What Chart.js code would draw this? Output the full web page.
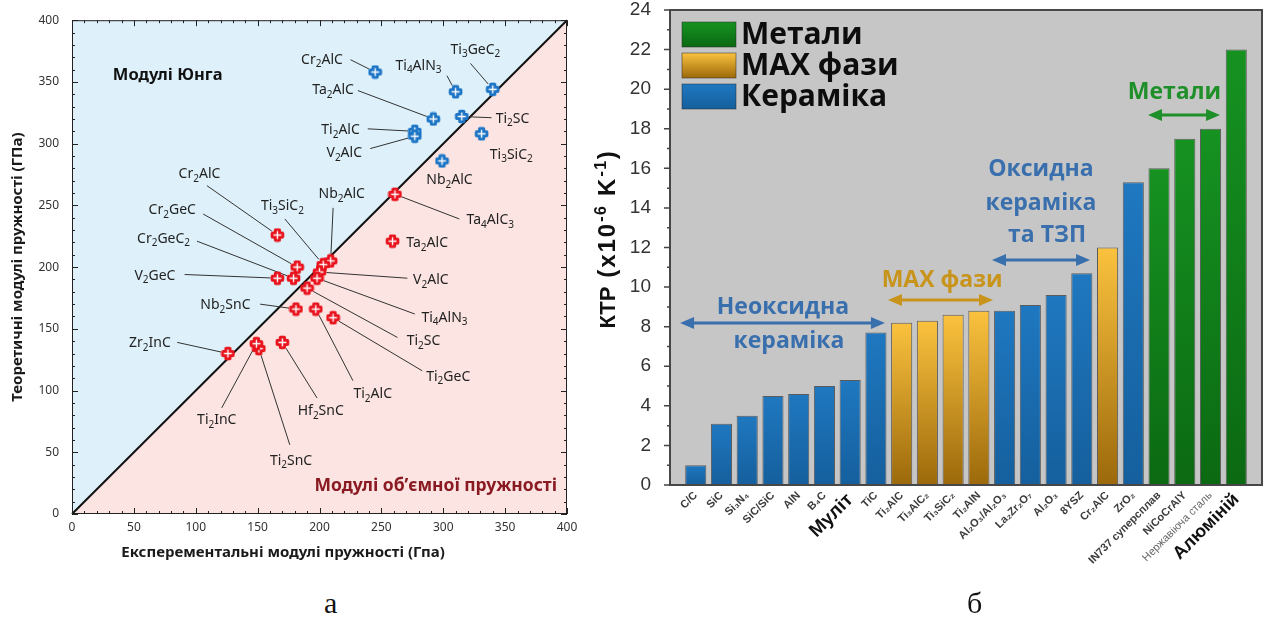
<!DOCTYPE html>
<html>
<head>
<meta charset="utf-8">
<script src="https://cdn.jsdelivr.net/npm/chart.js@4.4.1/dist/chart.umd.min.js"></script>
<style>
  html, body { margin: 0; padding: 0; background: #fff; width: 1268px; height: 618px; overflow: hidden; }
  #wrapA { position: absolute; left: 0; top: 0; width: 590px; height: 570px; }
  #wrapB { position: absolute; left: 590px; top: 0; width: 678px; height: 590px; }
  #wrapB canvas { filter: blur(0.5px); }
  .cap { position: absolute; font-family: "Liberation Serif", "Times New Roman", serif; font-size: 30px; color: #111; line-height: 1; }
</style>
</head>
<body>
<div id="wrapA"><canvas id="moduli"></canvas></div>
<div id="wrapB"><canvas id="ktr"></canvas></div>
<div class="cap" style="left:324px; top:588px;">а</div>
<div class="cap" style="left:967px; top:588px;">б</div>

<script>
// ---------- (а) Young's and bulk moduli: experiment vs theory, GPa ----------
const youngNames = ['Cr2AlC', 'Ti4AlN3', 'Ti3GeC2', 'Ta2AlC', 'Ti2SC', 'Ti2AlC', 'V2AlC', 'Ti3SiC2', 'Nb2AlC'];
const youngExp   = [245, 310, 340, 292, 315, 277, 277, 331, 299];
const youngTheo  = [358, 342, 344, 320, 322, 310, 306, 308, 286];

const bulkNames = ['Ta4AlC3', 'Ta2AlC', 'Cr2AlC', 'Cr2GeC', 'Cr2GeC2', 'V2GeC', 'Nb2AlC', 'Ti3SiC2', 'V2AlC',
                   'Ti4AlN3', 'Ti2SC', 'Ti2GeC', 'Ti2AlC', 'Nb2SnC', 'Hf2SnC', 'Ti2SnC', 'Ti2InC', 'Zr2InC'];
const bulkExp   = [261, 259, 166, 182, 179, 166, 209, 203, 200, 198, 190, 211, 197, 181, 170, 151, 149, 126];
const bulkTheo  = [259, 221, 226, 200, 191, 191, 205, 202, 196, 191, 183, 159, 166, 166, 139, 134, 138, 130];

const moduliTicks = [0, 50, 100, 150, 200, 250, 300, 350, 400];

// callout placement (axis units): text centre and the start of its leader line
const youngLabelAt    = [[202, 369], [280, 364], [326, 377], [211, 344], [356, 321], [217, 312], [220, 293], [355, 292], [305, 271]];
const youngLeaderFrom = [[225, 368], [303, 355], [322, 365], [231, 343], [339, 321], [239, 312], [241, 296], null, null];
const bulkLabelAt     = [[338, 239], [287, 220], [103, 276], [81, 247], [74, 224], [67, 194], [218, 260], [170, 250], [290, 190],
                         [301, 160], [284, 141], [304, 112], [243, 98], [124, 170], [201, 84], [177, 44], [117, 77], [63, 139]];
const bulkLeaderFrom  = [[313, 239], null, [109, 266], [106, 243], [101, 221], [91, 194], [211, 248], [172, 239], [271, 191],
                         [277, 162], [263, 143], [283, 116], [227, 108], [152, 170], [198, 94], [176, 56], [121, 86], [85, 139]];

// ---------- (б) coefficient of thermal expansion ----------
const materials = ['C/C', 'SiC', 'Si₃N₄', 'SiC/SiC', 'AlN', 'B₄C', 'Муліт', 'TiC',
                   'Ti₂AlC', 'Ti₃AlC₂', 'Ti₃SiC₂', 'Ti₂AlN',
                   'Al₂O₃/Al₂O₃', 'La₂Zr₂O₇', 'Al₂O₃', '8YSZ', 'Cr₂AlC', 'ZrO₂',
                   'IN737 суперсплав', 'NiCoCrAlY', 'Нержавіюча сталь', 'Алюміній'];
const ktrValues = [1.0, 3.1, 3.5, 4.5, 4.6, 5.0, 5.3, 7.7,
                   8.2, 8.3, 8.6, 8.8,
                   8.8, 9.1, 9.6, 10.7, 12.0, 15.3,
                   16.0, 17.5, 18.0, 22.0];
const materialGroup = ['cer', 'cer', 'cer', 'cer', 'cer', 'cer', 'cer', 'cer',
                       'max', 'max', 'max', 'max',
                       'cer', 'cer', 'cer', 'cer', 'max', 'cer',
                       'met', 'met', 'met', 'met'];
const groupLabels = { met: 'Метали', max: 'MAX фази', cer: 'Кераміка' };
const ktrTicks = [0, 2, 4, 6, 8, 10, 12, 14, 16, 18, 20, 22, 24];

// ---------- helpers ----------
function makeMarker(color) {
  const c = document.createElement('canvas');
  c.width = 15; c.height = 15;
  const g = c.getContext('2d');
  const m = 7.5;
  g.fillStyle = color;
  g.beginPath();
  g.roundRect(m - 3.6, m - 6.8, 7.2, 13.6, 1.8);
  g.roundRect(m - 6.8, m - 3.6, 13.6, 7.2, 1.8);
  g.fill();
  g.strokeStyle = '#fff';
  g.lineWidth = 1.4;
  g.beginPath();
  g.moveTo(m, m - 4); g.lineTo(m, m + 4);
  g.moveTo(m - 4, m); g.lineTo(m + 4, m);
  g.stroke();
  return c;
}
const blueMarker = makeMarker('#1b74c5');
const redMarker = makeMarker('#e8121c');

const LABEL_FONT = '"Noto Sans", "DejaVu Sans", sans-serif';
const NO_PAD = () => ({ left: 0, top: 0, right: 0, bottom: 0 });

// chemical formula: digits are drawn as subscripts
function drawFormula(g, text, x, y, size, align) {
  const runs = [];
  for (const ch of text) {
    const isSub = /[0-9]/.test(ch);
    if (runs.length && runs[runs.length - 1].sub === isSub) runs[runs.length - 1].t += ch;
    else runs.push({ t: ch, sub: isSub });
  }
  const big = `${size}px ${LABEL_FONT}`;
  const small = `${Math.round(size * 0.72)}px ${LABEL_FONT}`;
  let w = 0;
  runs.forEach(r => { g.font = r.sub ? small : big; r.w = g.measureText(r.t).width; w += r.w; });
  let cx = align === 'center' ? x - w / 2 : (align === 'right' ? x - w : x);
  g.textAlign = 'left';
  g.textBaseline = 'alphabetic';
  runs.forEach(r => {
    g.font = r.sub ? small : big;
    g.fillText(r.t, cx, y + size * 0.36 + (r.sub ? size * 0.26 : 0));
    cx += r.w;
  });
}

// ---------- chart (а) ----------
const moduliPlugin = {
  id: 'moduliDecor',
  beforeDatasetsDraw(chart) {
    const g = chart.ctx, xs = chart.scales.x, ys = chart.scales.y;
    const P = (vx, vy) => [xs.getPixelForValue(vx), ys.getPixelForValue(vy)];
    g.save();
    // two regions split by the 1:1 line
    const p0 = P(0, 0), p1 = P(0, 400), p2 = P(400, 400), p3 = P(400, 0);
    g.fillStyle = '#def1fa';
    g.beginPath(); g.moveTo(...p0); g.lineTo(...p1); g.lineTo(...p2); g.closePath(); g.fill();
    g.fillStyle = '#fbe4e1';
    g.beginPath(); g.moveTo(...p0); g.lineTo(...p3); g.lineTo(...p2); g.closePath(); g.fill();
    // 1:1 line
    g.strokeStyle = '#111'; g.lineWidth = 2;
    g.beginPath(); g.moveTo(...p0); g.lineTo(...p2); g.stroke();

    // region captions
    g.fillStyle = '#111';
    g.font = `bold 16.5px ${LABEL_FONT}`;
    g.textAlign = 'left'; g.textBaseline = 'middle';
    g.fillText('Модулі Юнга', ...P(33, 355));
    g.fillStyle = '#8a1a22';
    g.font = `bold 17.5px ${LABEL_FONT}`;
    g.textAlign = 'right';
    g.fillText('Модулі об’ємної пружності', ...P(392, 23));

    // callouts
    const callouts = (names, ex, th, at, from) => {
      names.forEach((n, i) => {
        const [px, py] = P(ex[i], th[i]);
        if (from[i]) {
          const [sx, sy] = P(from[i][0], from[i][1]);
          const dx = px - sx, dy = py - sy, d = Math.hypot(dx, dy);
          const k = Math.max(0, (d - 7) / d);
          g.strokeStyle = '#333'; g.lineWidth = 1;
          g.beginPath(); g.moveTo(sx, sy); g.lineTo(sx + dx * k, sy + dy * k); g.stroke();
        }
        g.fillStyle = '#222';
        const [tx, ty] = P(at[i][0], at[i][1]);
        drawFormula(g, n, tx, ty, 14, 'center');
      });
    };
    callouts(youngNames, youngExp, youngTheo, youngLabelAt, youngLeaderFrom);
    callouts(bulkNames, bulkExp, bulkTheo, bulkLabelAt, bulkLeaderFrom);
    g.restore();
  },
  afterDatasetsDraw(chart) {
    const g = chart.ctx, xs = chart.scales.x, ys = chart.scales.y, a = chart.chartArea;
    g.save();
    g.strokeStyle = '#222'; g.lineWidth = 1;
    g.strokeRect(a.left + 0.5, a.top + 0.5, a.width - 1, a.height - 1);
    g.beginPath();
    for (let v = 0; v <= 400; v += 10) {
      const len = v % 50 === 0 ? 6 : 3;
      const x = Math.round(xs.getPixelForValue(v)) + 0.5;
      const y = Math.round(ys.getPixelForValue(v)) + 0.5;
      g.moveTo(x, a.bottom); g.lineTo(x, a.bottom - len);
      g.moveTo(x, a.top); g.lineTo(x, a.top + len);
      g.moveTo(a.left, y); g.lineTo(a.left + len, y);
      g.moveTo(a.right, y); g.lineTo(a.right - len, y);
    }
    g.stroke();
    // x-axis title
    g.fillStyle = '#1a1a1a';
    g.font = `bold 15px ${LABEL_FONT}`;
    g.textAlign = 'center'; g.textBaseline = 'middle';
    g.fillText('Експерементальні модулі пружності (Гпа)', 283, 553);
    g.restore();
  }
};

new Chart(document.getElementById('moduli'), {
  type: 'scatter',
  data: {
    datasets: [
      { label: 'Модулі Юнга', data: youngExp.map((v, i) => ({ x: v, y: youngTheo[i] })),
        pointStyle: blueMarker, pointRadius: 7, pointHoverRadius: 7 },
      { label: 'Модулі об’ємної пружності', data: bulkExp.map((v, i) => ({ x: v, y: bulkTheo[i] })),
        pointStyle: redMarker, pointRadius: 7, pointHoverRadius: 7 }
    ]
  },
  options: {
    responsive: true, maintainAspectRatio: false, animation: false,
    layout: { padding: { left: 6, top: 19, right: 23, bottom: 0 } },
    plugins: { legend: { display: false }, tooltip: { enabled: false } },
    scales: {
      x: {
        type: 'linear', min: 0, max: 400,
        afterBuildTicks: s => { s.ticks = moduliTicks.map(v => ({ value: v })); },
        afterFit: s => { s.height = 56; },
        grid: { display: false, drawTicks: false }, border: { display: false },
        ticks: { padding: 6, color: '#333', font: { family: LABEL_FONT, size: 12 } }
      },
      y: {
        type: 'linear', min: 0, max: 400,
        afterBuildTicks: s => { s.ticks = moduliTicks.map(v => ({ value: v })); },
        afterFit: s => { s.width = 66; },
        grid: { display: false, drawTicks: false }, border: { display: false },
        ticks: { padding: 13, color: '#333', font: { family: LABEL_FONT, size: 12 } },
        title: { display: true, text: 'Теоретичні модулі пружності (ГПа)', color: '#1a1a1a',
                 font: { family: LABEL_FONT, size: 15, weight: 'bold' }, padding: { top: 3, bottom: 0 } }
      }
    }
  },
  plugins: [moduliPlugin]
});

// ---------- chart (б) ----------
const UI_FONT = '"Open Sans", "Noto Sans", sans-serif';
const AX_FONT = '"Liberation Sans", Arial, sans-serif';

const groupFill = {
  met: ['#169221', '#0b6912'],
  max: ['#fbc23e', '#9c690b'],
  cer: ['#1f78c0', '#155f9d']
};
function barFill(key) {
  return (c) => {
    const [top, bottom] = groupFill[key];
    const ch = c.chart;
    if (!ch.chartArea || !c.parsed) return top;
    const ys = ch.scales.y;
    const g = ch.ctx.createLinearGradient(0, ys.getPixelForValue(c.parsed.y), 0, ys.getPixelForValue(0));
    g.addColorStop(0, top);
    g.addColorStop(1, bottom);
    return g;
  };
}
function groupData(key) {
  const out = [];
  materials.forEach((m, i) => { if (materialGroup[i] === key) out.push({ x: i + 1, y: ktrValues[i] }); });
  return out;
}
function tickName(c) {
  const v = c && c.tick ? c.tick.value : (c && typeof c.index === 'number' ? c.index : -1);
  return materials[v - 1] || '';
}

// bracket annotations over the bars (x in bar positions, y in KTP units)
const spans = [
  { color: '#3a6fae', lines: [['Неоксидна', 4.39, 8.99], ['кераміка', 4.62, 7.23]], arrow: [0.39, 8.35, 8.19] },
  { color: '#c8941c', lines: [['MAX фази', 10.57, 10.36]], arrow: [8.47, 12.55, 9.35] },
  { color: '#3a6fae', lines: [['Оксидна', 14.41, 15.92], ['кераміка', 14.41, 14.25], ['та ТЗП', 14.65, 12.63]], arrow: [12.51, 16.32, 11.37] },
  { color: '#1f8f2a', lines: [['Метали', 19.6, 19.81]], arrow: [18.57, 21.37, 18.70] }
];

function arrowHead(g, x, y, dir) {
  g.beginPath();
  g.moveTo(x, y);
  g.lineTo(x - dir * 14, y - 6);
  g.lineTo(x - dir * 14, y + 6);
  g.closePath();
  g.fill();
}

// rotated y-axis title with raised exponents
function drawKtrTitle(g, cx, cy) {
  const runs = [
    { t: 'КТР', size: 22, rise: 0, sp: 0 },
    { t: ' (x10', size: 24, rise: 0, sp: 2 },
    { t: '-6', size: 16, rise: 9, sp: 1.5 },
    { t: ' K', size: 24, rise: 0, sp: 2 },
    { t: '-1', size: 16, rise: 9, sp: 1.5 },
    { t: ')', size: 24, rise: 0, sp: 0 }
  ];
  g.save();
  let w = 0;
  runs.forEach(r => {
    g.font = `bold ${r.size}px ${AX_FONT}`;
    g.letterSpacing = r.sp + 'px';
    r.w = g.measureText(r.t).width;
    w += r.w;
  });
  g.translate(cx, cy);
  g.rotate(-Math.PI / 2);
  g.fillStyle = '#111';
  g.textAlign = 'left';
  g.textBaseline = 'alphabetic';
  let x = -w / 2;
  runs.forEach(r => {
    g.font = `bold ${r.size}px ${AX_FONT}`;
    g.letterSpacing = r.sp + 'px';
    g.fillText(r.t, x, 8 - r.rise);
    x += r.w;
  });
  g.restore();
}

const ktrPlugin = {
  id: 'ktrDecor',
  beforeDraw(chart) {
    const g = chart.ctx, a = chart.chartArea;
    g.save();
    g.fillStyle = '#c6c6c6';
    g.fillRect(a.left, a.top, a.width, a.height);
    g.restore();
  },
  afterDatasetsDraw(chart) {
    const g = chart.ctx, a = chart.chartArea, xs = chart.scales.x, ys = chart.scales.y;
    g.save();
    // frame and y ticks
    g.strokeStyle = '#474747'; g.lineWidth = 2;
    g.strokeRect(a.left, a.top, a.width, a.height);
    g.lineWidth = 1.5; g.strokeStyle = '#444';
    g.beginPath();
    for (let v = 0; v <= 24; v += 1) {
      const y = ys.getPixelForValue(v);
      const len = v % 2 === 0 ? 6 : 3;
      g.moveTo(a.left - len, y); g.lineTo(a.left, y);
    }
    g.stroke();

    // legend built from the datasets
    chart.data.datasets.forEach((ds, i) => {
      const yTop = a.top + 12 + i * 31;
      const [c0, c1] = groupFill[ds.groupKey];
      const grad = g.createLinearGradient(0, yTop, 0, yTop + 25);
      grad.addColorStop(0, c0); grad.addColorStop(1, c1);
      g.fillStyle = grad;
      g.fillRect(a.left + 12, yTop, 54, 25);
      g.strokeStyle = 'rgba(40,40,40,0.5)'; g.lineWidth = 1;
      g.strokeRect(a.left + 12, yTop, 54, 25);
      g.fillStyle = '#0d0d0d';
      g.font = `bold 30px ${UI_FONT}`;
      g.textAlign = 'left'; g.textBaseline = 'middle';
      g.fillText(ds.label, a.left + 71, yTop + 13);
    });

    // group brackets
    spans.forEach(s => {
      g.fillStyle = s.color; g.strokeStyle = s.color;
      g.font = `bold 23px ${UI_FONT}`;
      g.textAlign = 'center'; g.textBaseline = 'middle';
      s.lines.forEach(([t, vx, vy]) => g.fillText(t, xs.getPixelForValue(vx), ys.getPixelForValue(vy)));
      const x1 = xs.getPixelForValue(s.arrow[0]), x2 = xs.getPixelForValue(s.arrow[1]), y = ys.getPixelForValue(s.arrow[2]);
      g.lineWidth = 3;
      g.beginPath(); g.moveTo(x1 + 8, y); g.lineTo(x2 - 8, y); g.stroke();
      arrowHead(g, x1, y, -1);
      arrowHead(g, x2, y, 1);
    });
    g.restore();
  },
  afterDraw(chart) {
    drawKtrTitle(chart.ctx, 17, 240);
  }
};

new Chart(document.getElementById('ktr'), {
  type: 'bar',
  data: {
    datasets: ['met', 'max', 'cer'].map(k => ({
      label: groupLabels[k],
      groupKey: k,
      data: groupData(k),
      backgroundColor: barFill(k),
      borderColor: 'rgba(35,35,35,0.65)',
      borderWidth: 1,
      categoryPercentage: 1,
      barPercentage: 0.82
    }))
  },
  options: {
    responsive: true, maintainAspectRatio: false, animation: false,
    layout: { padding: { left: 0, top: 10, right: 6, bottom: 0 }, autoPadding: false },
    plugins: { legend: { display: false }, tooltip: { enabled: false } },
    scales: {
      x: {
        type: 'linear', stacked: true, min: 0, max: 23, offset: false,
        afterFit: s => { s.height = 105; s.paddingLeft = 0; s.paddingRight = 0; s.getPadding = NO_PAD; },
        grid: { display: false, drawTicks: false, offset: false }, border: { display: false },
        ticks: {
          stepSize: 1, autoSkip: false, minRotation: 45, maxRotation: 45, padding: 4,
          callback: v => (v >= 1 && v <= materials.length) ? materials[v - 1] : '',
          color: c => {
            const name = tickName(c);
            if (name === 'Муліт' || name === 'Алюміній') return '#111';
            if (name === 'Нержавіюча сталь') return '#666';
            return '#3c3c3c';
          },
          font: c => {
            const name = tickName(c);
            if (name === 'Муліт') return { family: AX_FONT, size: 19, weight: 'bold' };
            if (name === 'Алюміній') return { family: AX_FONT, size: 18, weight: 'bold' };
            if (name === 'Нержавіюча сталь') return { family: AX_FONT, size: 11, weight: 'normal' };
            return { family: AX_FONT, size: 11, weight: 'bold' };
          }
        }
      },
      y: {
        stacked: true, min: 0, max: 24,
        afterBuildTicks: s => { s.ticks = ktrTicks.map(v => ({ value: v })); },
        afterFit: s => { s.width = 80; s.paddingTop = 0; s.paddingBottom = 0; s.getPadding = NO_PAD; },
        grid: { display: false, drawTicks: false }, border: { display: false },
        ticks: { padding: 19, color: '#333', font: { family: AX_FONT, size: 19 } },
        title: { display: false }
      }
    }
  },
  plugins: [ktrPlugin]
});
</script>
</body>
</html>
